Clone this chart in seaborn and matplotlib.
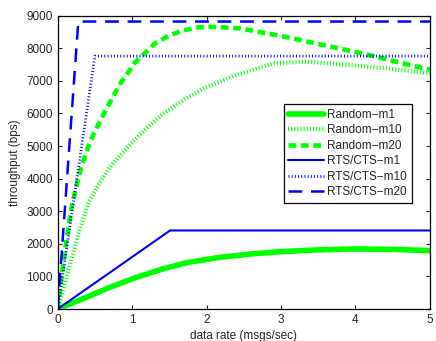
import matplotlib
matplotlib.use("Agg")
import matplotlib.pyplot as plt
import seaborn as sns

sns.set_style("ticks")
plt.rcParams['font.family'] = ['Liberation Sans', 'DejaVu Sans']
plt.rcParams['font.size'] = 8.5

# values
rand_m1_x = [0, 0.32, 0.70, 1.05, 1.44, 1.75, 2.18, 2.6, 2.99, 3.5, 3.97, 4.5, 5.0]
rand_m1_y = [0, 297, 666, 965, 1249, 1430, 1585, 1690, 1759, 1815, 1841, 1830, 1790]

rand_m10_x = [0, 0.054, 0.14, 0.23, 0.29, 0.42, 0.56, 0.69, 0.87, 1.01, 1.20, 1.40, 1.71,
              1.98, 2.36, 2.90, 3.34, 3.93, 4.42, 5.0]
rand_m10_y = [0, 420, 1150, 1900, 2400, 3292, 3856, 4317, 4795, 5133, 5560, 5960, 6440,
              6790, 7150, 7538, 7587, 7486, 7384, 7230]

rand_m20_x = [0, 0.05, 0.1, 0.17, 0.21, 0.255, 0.30, 0.357, 0.42, 0.49, 0.658, 0.837, 1.038,
              1.307, 1.485, 1.665, 1.89, 2.05, 2.45, 2.81, 3.16, 3.52, 3.88, 4.24, 4.60, 4.96, 5.0]
rand_m20_y = [0, 980, 1830, 2900, 3380, 3800, 4213, 4623, 5032, 5410, 6158, 6903, 7557,
              8152, 8376, 8539, 8642, 8661, 8611, 8458, 8305, 8121, 7946, 7762, 7557, 7363, 7340]

rts_m1_x = [0, 1.51, 5]
rts_m1_y = [0, 2410, 2410]
rts_m10_x = [0, 0.5, 5]
rts_m10_y = [0, 7760, 7760]
rts_m20_x = [0, 0.277, 5]
rts_m20_y = [0, 8820, 8820]

labels = ["Random\u2212m1", "Random\u2212m10", "Random\u2212m20",
          "RTS/CTS\u2212m1", "RTS/CTS\u2212m10", "RTS/CTS\u2212m20"]

green = "#00ff00"
blue = "#0000ff"

fig = plt.figure(figsize=(4.36, 3.41), dpi=100)
ax = fig.add_axes([0.1323, 0.0938, 0.8537, 0.8602])

series = [
    (rand_m1_x, rand_m1_y, green, "-", 4.0),
    (rand_m10_x, rand_m10_y, green, (0, (0.25, 0.5)), 3.0),
    (rand_m20_x, rand_m20_y, green, (0, (1.7, 1.0)), 3.3),
    (rts_m1_x, rts_m1_y, blue, "-", 1.5),
    (rts_m10_x, rts_m10_y, blue, (0, (0.35, 0.8)), 2.0),
    (rts_m20_x, rts_m20_y, blue, (0, (5.5, 3.5)), 1.8),
]
for (x, y, c, ls, lw), lab in zip(series, labels):
    sns.lineplot(x=x, y=y, ax=ax, color=c, linestyle=ls, linewidth=lw,
                 label=lab, dash_capstyle="butt")

ax.set_xlim(0, 5)
ax.set_ylim(0, 9000)
ax.set_xticks([0, 1, 2, 3, 4, 5])
ax.set_yticks(range(0, 9001, 1000))
ax.tick_params(direction="in", top=True, right=True, length=3, width=0.8, labelsize=8.5)
for s in ax.spines.values():
    s.set_linewidth(0.9)
    s.set_color("black")
ax.set_xlabel("data rate (msgs/sec)", fontsize=8.5, labelpad=3)
ax.set_ylabel("throughput (bps)", fontsize=8.5, labelpad=4)

leg = ax.legend(loc="upper right", bbox_to_anchor=(0.951, 0.699), fancybox=False,
                framealpha=1, edgecolor="black", fontsize=8.5, handlelength=3.0,
                labelspacing=0.3, borderpad=0.4, handletextpad=0.3, borderaxespad=0)
leg.get_frame().set_linewidth(0.9)

fig.savefig("out.png", dpi=100)
